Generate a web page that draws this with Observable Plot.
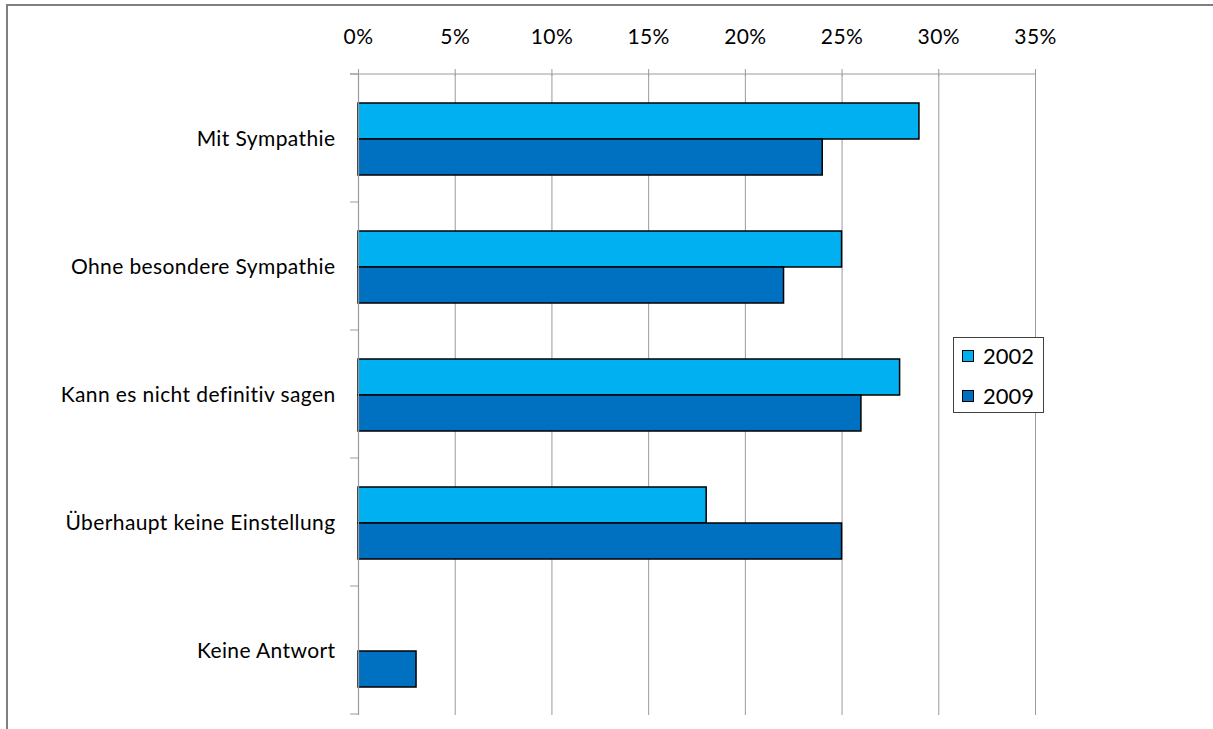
<!DOCTYPE html>
<html><head><meta charset="utf-8">
<script src="https://cdn.jsdelivr.net/npm/d3@7"></script>
<script src="https://cdn.jsdelivr.net/npm/@observablehq/plot@0.6"></script>
<style>
body{margin:0;background:#fff;font-family:Lato,"Noto Sans",sans-serif;}
#wrap{position:relative;width:1213px;height:729px;overflow:hidden;}
#frame{position:absolute;left:6px;top:4px;width:1300px;height:800px;border-top:2px solid #7f7f7f;border-left:2px solid #7f7f7f;}
#chart{position:absolute;left:0;top:0;}
#chart svg text{letter-spacing:0.4px;}
#legend{position:absolute;left:953px;top:337px;width:89px;height:74px;border:1px solid #404040;background:#fff;font-size:22px;color:#000;}
#legend .row{position:absolute;left:8px;display:flex;align-items:center;line-height:24px;}
#legend .sw{width:10px;height:10px;border:1.5px solid #000;margin-right:9px;}
</style></head>
<body><div id="wrap"><div id="frame"></div><div id="chart"></div><div id="legend"></div></div>
<script>
const categories = ["Mit Sympathie","Ohne besondere Sympathie","Kann es nicht definitiv sagen","Überhaupt keine Einstellung","Keine Antwort"];
const years = ["2002","2009"];
const v2002 = [29,25,28,18,null];
const v2009 = [24,22,26,25,3];
const xTicks = [0,5,10,15,20,25,30,35];
const colors = ["#00B0F0","#0070C0"];

const data = [];
categories.forEach((c,i)=>{
  if (v2002[i] != null) data.push({category:c, year:years[0], value:v2002[i]});
  if (v2009[i] != null) data.push({category:c, year:years[1], value:v2009[i]});
});

const plot = Plot.plot({
  width:1213, height:729,
  marginTop:74, marginBottom:14, marginLeft:358, marginRight:178,
  style:{fontFamily:"Lato, 'Noto Sans', sans-serif", fontSize:"21px", background:"transparent", color:"#000", overflow:"visible"},
  x:{domain:[0,35]},
  fy:{domain:categories, padding:0, label:null, axis:null},
  y:{domain:years, paddingInner:0, paddingOuter:0.75, axis:null},
  color:{domain:years, range:colors},
  marks:[
    Plot.gridX(xTicks, {stroke:"#9a9a9a", strokeOpacity:1, strokeWidth:1}),
    Plot.axisX(xTicks, {anchor:"top", tickFormat:d=>d+"%", tickSize:7, tickPadding:25, stroke:"#9a9a9a", fontSize:21, label:null}),
    Plot.axisFy({anchor:"left", tickSize:0, tickPadding:23, fontSize:21, label:null}),
    Plot.barX(data, {fy:"category", y:"year", x:"value", fill:"year", stroke:"#000", strokeWidth:1.5}),
    Plot.ruleX([0], {stroke:"#9a9a9a", strokeWidth:1.2})
  ]
});
document.getElementById("chart").appendChild(plot);

// Category-boundary ticks and top axis line, placed with the library's own scales
const fy = plot.scale("fy");
const xs = plot.scale("x");
const svg = d3.select(plot);
const x0 = xs.apply(0);
const g = svg.append("g").attr("stroke","#9a9a9a").attr("stroke-width",1);
for (let i = 0; i <= categories.length; i++) {
  const yy = fy.range[0] + i * fy.step;
  g.append("line").attr("x1", x0 - 8).attr("x2", x0).attr("y1", yy).attr("y2", yy);
}
g.append("line").attr("x1", x0 - 8).attr("x2", xs.apply(35)).attr("y1", fy.range[0]).attr("y2", fy.range[0]);

// Legend
const leg = d3.select("#legend");
years.forEach((y,i)=>{
  const row = leg.append("div").attr("class","row").style("top", (6 + i*40) + "px");
  row.append("div").attr("class","sw").style("background", colors[i]);
  row.append("span").text(y);
});
</script>
</body></html>
